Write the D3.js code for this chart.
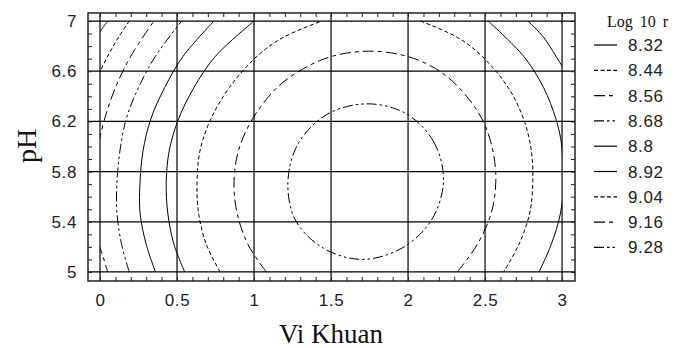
<!DOCTYPE html>
<html>
<head>
<meta charset="utf-8">
<script src="https://cdn.jsdelivr.net/npm/d3@7"></script>
<style>
  body { margin: 0; background: #fff; }
  svg { display: block; }
</style>
</head>
<body>
<script>
// contour levels (Log 10 r) and their legend labels
var levels = [8.32, 8.44, 8.56, 8.68, 8.8, 8.92, 9.04, 9.16, 9.28];
var levelLabels = ["8.32", "8.44", "8.56", "8.68", "8.8", "8.92", "9.04", "9.16", "9.28"];

var xTicks = [0, 0.5, 1, 1.5, 2, 2.5, 3];
var yTicks = [5, 5.4, 5.8, 6.2, 6.6, 7];

// contour lines, [Vi Khuan, pH]
var c832 = [[[-0.01, 6.90], [0.02, 6.95], [0.05, 7.0]]];
var c844 = [[[-0.01, 6.57], [0.05, 6.72], [0.12, 6.87], [0.19, 7.0]]];
var c856 = [
  [[-0.01, 5.23], [0.02, 5.12], [0.05, 5.0]],
  [[-0.01, 6.02], [0.03, 6.22], [0.10, 6.47], [0.20, 6.72], [0.35, 7.0]]
];
var c868 = [
  [[0.19, 5.0], [0.14, 5.22], [0.11, 5.47], [0.11, 5.72], [0.13, 5.97], [0.17, 6.22], [0.25, 6.47], [0.36, 6.72], [0.53, 7.0]],
  [[2.99, 7.0], [3.04, 6.92]]
];
var c880 = [
  [[0.36, 5.0], [0.30, 5.22], [0.26, 5.47], [0.26, 5.72], [0.28, 5.97], [0.33, 6.22], [0.42, 6.47], [0.54, 6.72], [0.74, 7.0]],
  [[2.78, 7.0], [2.88, 6.87], [2.96, 6.72], [3.01, 6.62]]
];
var c892 = [
  [[0.55, 5.0], [0.48, 5.22], [0.44, 5.47], [0.43, 5.72], [0.45, 5.97], [0.51, 6.22], [0.61, 6.47], [0.75, 6.72], [1.0, 7.0]],
  [[2.52, 7.0], [2.75, 6.72], [2.88, 6.47], [2.96, 6.22], [2.99, 6.07], [3.0, 5.97], [3.01, 5.72], [2.99, 5.47], [2.93, 5.22], [2.85, 5.0]]
];
var c904 = [
  [[0.78, 5.0], [0.69, 5.22], [0.64, 5.47], [0.63, 5.72], [0.65, 5.97], [0.72, 6.22], [0.84, 6.47], [1.02, 6.72], [1.19, 6.87], [1.44, 7.0]],
  [[2.08, 7.0], [2.32, 6.87], [2.48, 6.72], [2.65, 6.47], [2.75, 6.22], [2.80, 5.97], [2.81, 5.72], [2.79, 5.47], [2.72, 5.22], [2.62, 5.0]]
];
var c916 = [
  [[1.08, 5.0], [0.96, 5.22], [0.89, 5.47], [0.87, 5.72], [0.90, 5.97], [0.99, 6.22], [1.15, 6.47], [1.32, 6.62], [1.51, 6.72], [1.75, 6.76],
   [1.99, 6.72], [2.18, 6.62], [2.33, 6.47], [2.48, 6.22], [2.55, 5.97], [2.57, 5.72], [2.54, 5.47], [2.45, 5.22], [2.32, 5.0]]
];
var c928 = [
  [[2.23, 5.72], [2.17, 6.03], [1.99, 6.26], [1.74, 6.34], [1.48, 6.26], [1.29, 6.03], [1.22, 5.72], [1.27, 5.41], [1.45, 5.19], [1.70, 5.10], [1.96, 5.19], [2.15, 5.41]]
];

var contourSegs = [c832, c844, c856, c868, c880, c892, c904, c916, c928];

// line styles by level (solid, dotted, dash-dot, dash-dot-dot, repeat)
var dashes = ["none", "4,2.5", "11,4,4,4", "10,3,2.5,3,2.5,3", "none", "none", "4,2.5", "11,4,4,4", "10,3,2.5,3,2.5,3"];

var W = 676, H = 348;

var x = d3.scaleLinear().domain([-0.078, 3.084]).range([88, 575]);
var y = d3.scaleLinear().domain([4.928, 7.064]).range([281, 13]);

var svg = d3.select("body").append("svg")
    .attr("width", W)
    .attr("height", H);

svg.append("rect").attr("width", W).attr("height", H).attr("fill", "#fff");

svg.append("clipPath").attr("id", "dataClip")
  .append("rect")
    .attr("x", x(0)).attr("y", y(7))
    .attr("width", x(3) - x(0)).attr("height", y(5) - y(7));

// grid
svg.append("g").selectAll("line.gx")
  .data(xTicks).enter().append("line")
    .attr("x1", function(d) { return x(d); })
    .attr("x2", function(d) { return x(d); })
    .attr("y1", y.range()[1]).attr("y2", y.range()[0])
    .attr("stroke", "#000").attr("stroke-width", 1.2);

svg.append("g").selectAll("line.gy")
  .data(yTicks).enter().append("line")
    .attr("x1", x.range()[0]).attr("x2", x.range()[1])
    .attr("y1", function(d) { return y(d); })
    .attr("y2", function(d) { return y(d); })
    .attr("stroke", "#000").attr("stroke-width", 1.2);

// contours
var line = d3.line()
    .x(function(d) { return x(d[0]); })
    .y(function(d) { return y(d[1]); })
    .curve(d3.curveCatmullRom.alpha(0.5));
var lineClosed = d3.line()
    .x(function(d) { return x(d[0]); })
    .y(function(d) { return y(d[1]); })
    .curve(d3.curveCatmullRomClosed.alpha(0.5));

var cg = svg.append("g").attr("clip-path", "url(#dataClip)");
levels.forEach(function(lv, i) {
  contourSegs[i].forEach(function(seg) {
    var closed = (i == levels.length - 1);
    cg.append("path")
      .attr("d", closed ? lineClosed(seg) : line(seg))
      .attr("fill", "none")
      .attr("stroke", "#000")
      .attr("stroke-width", 1)
      .attr("stroke-dasharray", dashes[i]);
  });
});

// frame and minor ticks (inward)
var minorX = d3.range(0, 30.5, 1).map(function(d) { return d / 10; });
var minorY = d3.range(50, 70.5, 1).map(function(d) { return d / 10; });

function minorAxis(g) {
  g.select(".domain").remove();
  g.selectAll("line").attr("stroke", "#222").attr("stroke-width", 1);
}
svg.append("g").attr("transform", "translate(0," + y.range()[1] + ")")
  .call(d3.axisTop(x).tickValues(minorX).tickSize(-4).tickFormat(""))
  .call(minorAxis);
svg.append("g").attr("transform", "translate(0," + y.range()[0] + ")")
  .call(d3.axisBottom(x).tickValues(minorX).tickSize(-4).tickFormat(""))
  .call(minorAxis);
svg.append("g").attr("transform", "translate(" + x.range()[0] + ",0)")
  .call(d3.axisLeft(y).tickValues(minorY).tickSize(-4).tickFormat(""))
  .call(minorAxis);
svg.append("g").attr("transform", "translate(" + x.range()[1] + ",0)")
  .call(d3.axisRight(y).tickValues(minorY).tickSize(-4).tickFormat(""))
  .call(minorAxis);

svg.append("rect")
    .attr("x", x.range()[0]).attr("y", y.range()[1])
    .attr("width", x.range()[1] - x.range()[0])
    .attr("height", y.range()[0] - y.range()[1])
    .attr("fill", "none").attr("stroke", "#222").attr("stroke-width", 1.5);

// tick labels
function labelAxis(g) {
  g.select(".domain").remove();
  g.selectAll("line").remove();
  g.selectAll("text")
    .attr("font-family", "'Liberation Sans', Arial, sans-serif")
    .attr("font-size", 17)
    .attr("letter-spacing", 0.6)
    .attr("fill", "#222");
}
svg.append("g").attr("transform", "translate(0," + y.range()[0] + ")")
  .call(d3.axisBottom(x).tickValues(xTicks).tickSize(0).tickPadding(13).tickFormat(d3.format("")))
  .call(labelAxis);
svg.append("g").attr("transform", "translate(" + x.range()[0] + ",0)")
  .call(d3.axisLeft(y).tickValues(yTicks).tickSize(0).tickPadding(11).tickFormat(d3.format("")))
  .call(labelAxis);

// axis titles
svg.append("text")
    .attr("x", x(1.5)).attr("y", 343)
    .attr("text-anchor", "middle")
    .attr("font-family", "'Liberation Serif', 'Times New Roman', serif")
    .attr("font-size", 27)
    .attr("fill", "#111")
    .text("Vi Khuan");

svg.append("text")
    .attr("transform", "translate(36," + 146 + ") rotate(-90)")
    .attr("text-anchor", "middle")
    .attr("font-family", "'Liberation Serif', 'Times New Roman', serif")
    .attr("font-size", 28)
    .attr("fill", "#111")
    .text("pH");

// legend
var lg = svg.append("g");
lg.append("text")
    .attr("x", 607).attr("y", 27)
    .attr("font-family", "'Liberation Serif', 'Times New Roman', serif")
    .attr("font-size", 16)
    .attr("word-spacing", 3)
    .attr("fill", "#111")
    .text("Log 10 r");

var items = lg.selectAll("g.item")
  .data(levels).enter().append("g")
    .attr("transform", function(d, i) { return "translate(0," + (45 + i * 25.3) + ")"; });
items.append("line")
    .attr("x1", 594).attr("x2", 617)
    .attr("y1", 0).attr("y2", 0)
    .attr("stroke", "#000").attr("stroke-width", 1.2)
    .attr("stroke-dasharray", function(d, i) { return dashes[i]; });
items.append("text")
    .attr("x", 628).attr("y", 6)
    .attr("font-family", "'Liberation Sans', Arial, sans-serif")
    .attr("font-size", 17)
    .attr("letter-spacing", 0.6)
    .attr("fill", "#222")
    .text(function(d, i) { return levelLabels[i]; });
</script>
</body>
</html>
